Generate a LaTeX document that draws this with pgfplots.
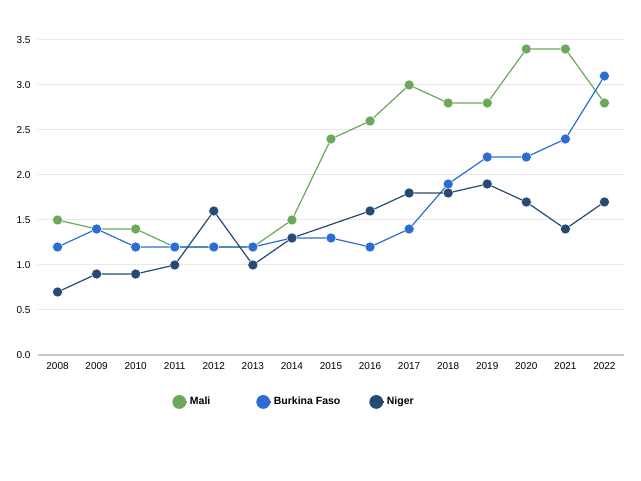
\documentclass[border=0pt]{standalone}
\usepackage{pgfplots}
\pgfplotsset{compat=1.18}
\usepackage{fontspec}
\setmainfont{Liberation Sans}
\definecolor{mali}{HTML}{6BA85A}
\definecolor{burkina}{HTML}{2B6DD1}
\definecolor{niger}{HTML}{264A73}
\begin{document}
\begin{tikzpicture}
\path (-38pt,-126pt) rectangle (603pt,355pt);
\begin{axis}[
  at={(0pt,0pt)}, anchor=south west,
  scale only axis,
  width=586pt, height=315pt,
  xmin=2007.5, xmax=2022.5,
  ymin=0, ymax=3.5,
  xtick={2008,...,2022},
  ytick={0,0.5,...,3.5},
  major tick length=0pt,
  axis line style={draw=none},
  ymajorgrids,
  grid style={color=black!9, line width=1pt},
  extra y ticks={0},
  extra y tick labels={},
  extra y tick style={grid style={color=black!22, line width=1.6pt}},
  font=\fontsize{10}{12}\selectfont,
  /pgf/number format/assume math mode=true,
  x tick label style={/pgf/number format/1000 sep=, yshift=-4pt},
  y tick label style={/pgf/number format/.cd, fixed, fixed zerofill, precision=1, /tikz/.cd, xshift=-4pt},
  clip=false,
  legend columns=3,
  legend style={at={(0.437,-0.149)}, anchor=center, draw=none,
    font=\fontsize{10.5}{12}\selectfont\bfseries,
    /tikz/column 2/.style={column sep=44pt},
    /tikz/column 4/.style={column sep=27pt}},
  legend image code/.code={\fill[#1] (0pt,0pt) circle (6.3pt); \path (0pt,0pt) -- (8pt,0pt);},
  every axis plot/.append style={line width=1.2pt, mark=*, mark size=5pt},
]
\addplot[color=mali, mark options={draw=white, line width=0.4pt, fill=mali}] coordinates {
  (2008,1.5) (2009,1.4) (2010,1.4) (2011,1.2) (2012,1.2) (2013,1.2) (2014,1.5)
  (2015,2.4) (2016,2.6) (2017,3.0) (2018,2.8) (2019,2.8) (2020,3.4) (2021,3.4) (2022,2.8)
};
\addlegendentry{Mali}
\addplot[color=burkina, mark options={draw=white, line width=0.4pt, fill=burkina}] coordinates {
  (2008,1.2) (2009,1.4) (2010,1.2) (2011,1.2) (2012,1.2) (2013,1.2) (2014,1.3)
  (2015,1.3) (2016,1.2) (2017,1.4) (2018,1.9) (2019,2.2) (2020,2.2) (2021,2.4) (2022,3.1)
};
\addlegendentry{Burkina Faso}
\addplot[color=niger, mark options={draw=white, line width=0.4pt, fill=niger}] coordinates {
  (2008,0.7) (2009,0.9) (2010,0.9) (2011,1.0) (2012,1.6) (2013,1.0) (2014,1.3)
  (2016,1.6) (2017,1.8) (2018,1.8) (2019,1.9) (2020,1.7) (2021,1.4) (2022,1.7)
};
\addlegendentry{Niger}
\end{axis}
\end{tikzpicture}
\end{document}
